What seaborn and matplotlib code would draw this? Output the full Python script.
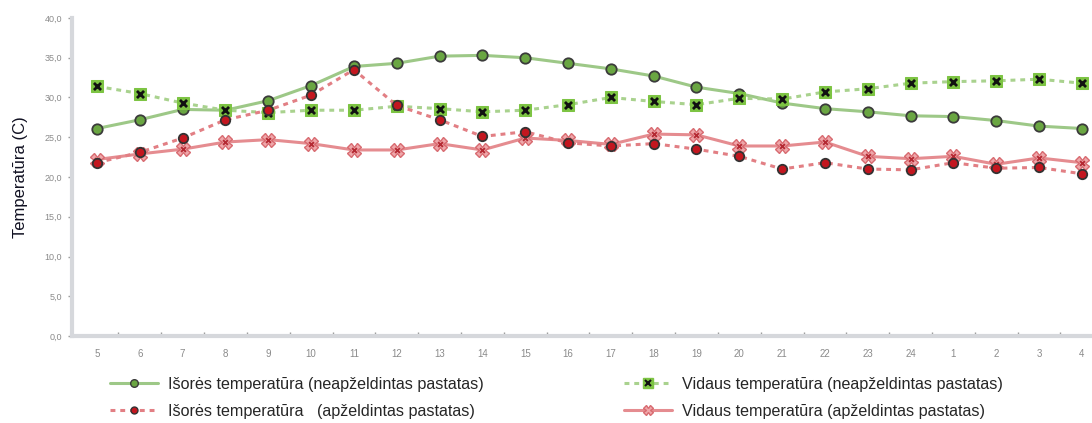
import numpy as np
import pandas as pd
import matplotlib
matplotlib.use("Agg")
import matplotlib.pyplot as plt
import seaborn as sns
from matplotlib.lines import Line2D
from matplotlib.legend_handler import HandlerTuple
from matplotlib.ticker import FixedLocator, FuncFormatter

hours = ["5", "6", "7", "8", "9", "10", "11", "12", "13", "14", "15", "16",
         "17", "18", "19", "20", "21", "22", "23", "24", "1", "2", "3", "4"]
isores_neap = [26.1, 27.2, 28.5, 28.4, 29.6, 31.5, 33.9, 34.3, 35.2, 35.3, 35.0, 34.3,
               33.6, 32.7, 31.3, 30.5, 29.3, 28.6, 28.2, 27.7, 27.6, 27.1, 26.4, 26.1]
vidaus_neap = [31.4, 30.5, 29.3, 28.4, 28.1, 28.4, 28.4, 28.9, 28.6, 28.2, 28.4, 29.1,
               30.0, 29.5, 29.1, 29.9, 29.8, 30.7, 31.1, 31.8, 32.0, 32.1, 32.3, 31.8]
isores_apz = [21.8, 23.1, 24.9, 27.2, 28.4, 30.3, 33.5, 29.0, 27.2, 25.1, 25.7, 24.3,
              23.9, 24.2, 23.5, 22.6, 21.0, 21.8, 21.0, 20.9, 21.8, 21.1, 21.2, 20.4]
vidaus_apz = [22.2, 22.9, 23.5, 24.4, 24.7, 24.2, 23.4, 23.4, 24.2, 23.4, 24.9, 24.6,
              24.1, 25.4, 25.3, 23.9, 23.9, 24.4, 22.6, 22.3, 22.6, 21.6, 22.4, 21.8]
series_labels = [
    "Išorės temperatūra (neapželdintas pastatas)",
    "Vidaus temperatūra (neapželdintas pastatas)",
    "Išorės temperatūra   (apželdintas pastatas)",
    "Vidaus temperatūra (apželdintas pastatas)",
]
y_label = "Temperatūra (C)"

sns.set_theme(style="white")
plt.rcParams["font.family"] = ["Liberation Sans", "DejaVu Sans"]

fig = plt.figure(figsize=(10.92, 4.23), dpi=100)
ax = fig.add_axes([72 / 1092, 1 - 336 / 423, (1090 - 72) / 1092, (336 - 18) / 423])

pos = np.arange(len(hours))
df = pd.DataFrame({"pos": pos, "a": isores_neap, "b": vidaus_neap,
                   "c": isores_apz, "d": vidaus_apz})

g_line = "#9DC887"
g_face = "#6AA642"
sq_face = "#7DC443"
r_line = "#E27F84"
r_face = "#C3161F"
rx_line = "#E58C90"

# Green solid - outside, unplanted
sns.lineplot(data=df, x="pos", y="a", ax=ax, color=g_line, lw=2.2, marker="o",
             markersize=7.5, markerfacecolor=g_face, markeredgecolor="#3b3b3b",
             markeredgewidth=1.3, zorder=3)
# Green dotted - inside, unplanted
sns.lineplot(data=df, x="pos", y="b", ax=ax, color="#A9D28E", lw=2.2,
             linestyle=(0, (1.6, 1.6)), marker="s", markersize=8.5,
             markerfacecolor=sq_face, markeredgecolor=sq_face, zorder=3)
sns.scatterplot(data=df, x="pos", y="b", ax=ax, marker="x", color="#111111",
                s=26, linewidth=2.0, zorder=4)
# Red solid - inside, planted
sns.lineplot(data=df, x="pos", y="d", ax=ax, color=rx_line, lw=2.2, marker="X",
             markersize=9.5, markerfacecolor="#EFA7AA", markeredgecolor="#D86A70",
             markeredgewidth=1.0, zorder=5)
sns.scatterplot(data=df, x="pos", y="d", ax=ax, marker="x", color="#B52A33",
                s=12, linewidth=1.4, zorder=6)
# Red dotted - outside, planted
sns.lineplot(data=df, x="pos", y="c", ax=ax, color=r_line, lw=2.2,
             linestyle=(0, (1.6, 1.6)), marker="o", markersize=6.8,
             markerfacecolor=r_face, markeredgecolor="#333333",
             markeredgewidth=1.3, zorder=7)

ax.set_ylim(0, 40)
ax.set_xlim(-0.584, 23.19)
ax.set_xticks(pos)
ax.set_xticklabels(hours)
ax.xaxis.set_minor_locator(FixedLocator(pos[:-1] + 0.5))
ax.set_yticks(np.arange(0, 41, 5))
ax.yaxis.set_major_formatter(FuncFormatter(lambda v, p: f"{v:.1f}".replace(".", ",")))
ax.tick_params(axis="x", which="major", length=0, pad=9, labelsize=7, labelcolor="#8a8a8a")
ax.tick_params(axis="x", which="minor", length=3, width=1, color="#9a9a9a", direction="in")
ax.tick_params(axis="y", which="major", length=3, width=1, color="#9a9a9a",
               labelsize=6.5, labelcolor="#8a8a8a", pad=4)
ax.tick_params(axis="both", bottom=True, left=True)
ax.xaxis.set_tick_params(which="minor", bottom=True)

for s in ["top", "right"]:
    ax.spines[s].set_visible(False)
ax.spines["left"].set_color("#D6D8DC")
ax.spines["left"].set_linewidth(3)
ax.spines["bottom"].set_color("#D6D8DC")
ax.spines["bottom"].set_linewidth(3)
ax.grid(False)

ax.set_xlabel("")
ax.set_ylabel(y_label, fontsize=12, color="#111122")
ax.yaxis.set_label_coords(-0.043, 0.5)

# Legend
h1 = Line2D([], [], color=g_line, lw=2.2, marker="o", markersize=5.5,
            markerfacecolor=g_face, markeredgecolor="#3b3b3b")
h2a = Line2D([], [], color="#A9D28E", lw=2.2, linestyle=(0, (1.6, 1.6)), marker="s",
             markersize=6.5, markerfacecolor=sq_face, markeredgecolor=sq_face)
h2b = Line2D([], [], color="none", lw=0, marker="x", markersize=4,
             markeredgecolor="#111111", markeredgewidth=1.5)
h3 = Line2D([], [], color=r_line, lw=2.2, linestyle=(0, (1.6, 1.6)), marker="o",
            markersize=5, markerfacecolor=r_face, markeredgecolor="#333333")
h4 = Line2D([], [], color=rx_line, lw=2.2, marker="X", markersize=7,
            markerfacecolor="#EFA7AA", markeredgecolor="#D86A70")

common = dict(frameon=False, fontsize=11.6, handlelength=3.0, handletextpad=0.6,
              labelspacing=0.72, borderpad=0, borderaxespad=0, loc="upper left",
              handler_map={tuple: HandlerTuple(ndivide=1)})
leg1 = fig.legend([h1, h3], [series_labels[0], series_labels[2]],
                  bbox_to_anchor=(110 / 1092, 1 - 377 / 423), **common)
leg2 = fig.legend([(h2a, h2b), h4], [series_labels[1], series_labels[3]],
                  bbox_to_anchor=(624 / 1092, 1 - 377 / 423), **common)

fig.savefig("out.png", dpi=100)
